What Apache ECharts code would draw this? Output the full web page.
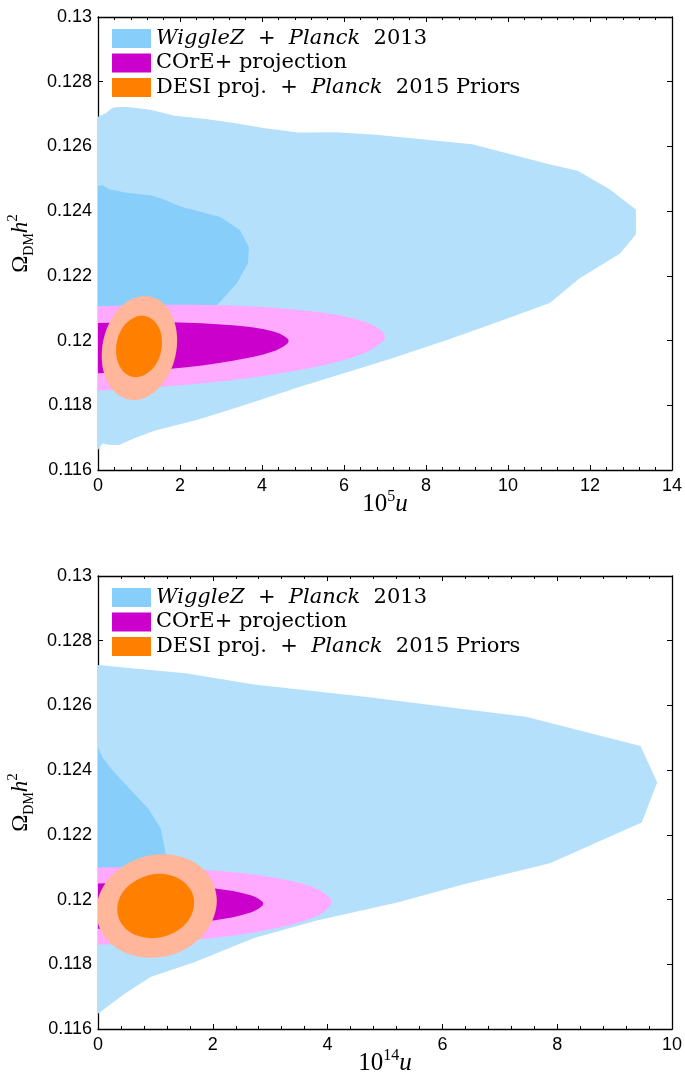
<!DOCTYPE html>
<html><head><meta charset="utf-8">
<script src="https://cdn.jsdelivr.net/npm/echarts@6/dist/echarts.min.js"></script>
<style>html,body{margin:0;padding:0;background:#fff}#c{width:685px;height:1084px}</style>
</head><body><div id="c"></div>
<script>
// ---------- tick labels ----------
const yTickLabels = ['0.116','0.118','0.12','0.122','0.124','0.126','0.128','0.13'];
const xTickLabelsTop = ['0','2','4','6','8','10','12','14'];
const xTickLabelsBottom = ['0','2','4','6','8','10'];
const legendNames = ['WiggleZ + Planck 2013','COrE+ projection','DESI proj. + Planck 2015 Priors'];

// ---------- top panel (10^5 u) ----------
const topWiggle95 = [[0,0.12692],[0.198,0.12703],[0.334,0.12718],[0.469,0.12722],[0.739,0.12722],[1.280,0.12713],[1.867,0.12695],[2.633,0.12685],[3.354,0.12672],[4.076,0.12656],[4.887,0.12643],[5.789,0.12644],[6.781,0.12636],[7.592,0.12626],[9.125,0.12607],[10.117,0.12574],[10.929,0.12547],[11.695,0.12525],[12.462,0.12469],[13.120,0.12405],[13.120,0.12328],[12.732,0.12269],[11.740,0.12192],[11.019,0.12116],[9.847,0.12062],[8.584,0.12005],[7.142,0.11944],[5.879,0.11894],[4.887,0.11856],[3.805,0.11810],[3.174,0.11785],[2.453,0.11756],[1.371,0.11721],[0.830,0.11695],[0.514,0.11677],[0.289,0.11677],[0.108,0.11682],[0,0.11662]];
const topWiggle68 = [[0,0.12478],[0.108,0.12480],[0.289,0.12467],[0.73,0.12456],[1.28,0.12449],[1.56,0.12438],[2.05,0.12413],[2.98,0.12382],[3.46,0.12342],[3.68,0.12289],[3.66,0.12240],[3.39,0.12178],[2.93,0.12113],[2.54,0.12072],[0,0.12051]];
const topCore95 = [[7.0,0.12013],[6.47,0.12060],[4.95,0.12094],[2.68,0.12110],[0,0.12106],[-2.68,0.12082],[-4.95,0.12042],[-6.47,0.11992],[-7.0,0.11939],[-6.47,0.11892],[-4.95,0.11858],[-2.68,0.11842],[0,0.11846],[2.68,0.11870],[4.95,0.11910],[6.47,0.11960]];
const topCore68 = [[4.65,0.11999],[4.30,0.12027],[3.29,0.12047],[1.78,0.12057],[0,0.12054],[-1.78,0.12039],[-3.29,0.12014],[-4.30,0.11984],[-4.65,0.11953],[-4.30,0.11925],[-3.29,0.11905],[-1.78,0.11895],[0,0.11899],[1.78,0.11913],[3.29,0.11938],[4.30,0.11968]];
const topDesi95 = [[1.93,0.12001],[1.86,0.12060],[1.66,0.12107],[1.36,0.12133],[1.01,0.12136],[0.66,0.12115],[0.36,0.12073],[0.16,0.12016],[0.09,0.11953],[0.16,0.11894],[0.36,0.11847],[0.66,0.11821],[1.01,0.11818],[1.36,0.11839],[1.66,0.11882],[1.86,0.11938]];
const topDesi68 = [[1.56,0.11994],[1.52,0.12030],[1.40,0.12057],[1.21,0.12074],[1.00,0.12076],[0.79,0.12064],[0.60,0.12040],[0.48,0.12007],[0.44,0.11970],[0.48,0.11935],[0.60,0.11907],[0.79,0.11890],[1.00,0.11888],[1.21,0.11900],[1.40,0.11924],[1.52,0.11957]];

// ---------- bottom panel (10^14 u) ----------
const botWiggle95 = [[0,0.12725],[1.559,0.12699],[2.719,0.12665],[4.652,0.12627],[6.392,0.12588],[7.455,0.12565],[9.452,0.12475],[9.742,0.12362],[9.472,0.12238],[7.874,0.12112],[6.392,0.12048],[5.232,0.11992],[3.814,0.11935],[2.719,0.11881],[1.688,0.11807],[0.915,0.11761],[0.464,0.11709],[0,0.11647]];
const botWiggle68 = [[0,0.12470],[0.077,0.12439],[0.238,0.12403],[0.528,0.12346],[0.883,0.12280],[1.095,0.12218],[1.186,0.12136],[1.17,0.12089],[0,0.12059]];
const botCore95 = [[4.07,0.11992],[3.76,0.12037],[2.88,0.12073],[1.56,0.12095],[0,0.12099],[-1.56,0.12086],[-2.88,0.12056],[-3.76,0.12015],[-4.07,0.11968],[-3.76,0.11923],[-2.88,0.11887],[-1.56,0.11865],[0,0.11861],[1.56,0.11874],[2.88,0.11904],[3.76,0.11945]];
const botCore68 = [[2.88,0.11987],[2.66,0.12013],[2.04,0.12034],[1.10,0.12047],[0,0.12050],[-1.10,0.12042],[-2.04,0.12024],[-2.66,0.12000],[-2.88,0.11973],[-2.66,0.11947],[-2.04,0.11926],[-1.10,0.11913],[0,0.11910],[1.10,0.11918],[2.04,0.11936],[2.66,0.11960]];
const botDesi95 = [[2.07,0.11996],[1.99,0.12056],[1.77,0.12104],[1.43,0.12133],[1.02,0.12139],[0.62,0.12121],[0.28,0.12081],[0.05,0.12026],[-0.03,0.11964],[0.05,0.11904],[0.28,0.11856],[0.62,0.11827],[1.02,0.11821],[1.43,0.11839],[1.77,0.11879],[1.99,0.11934]];
const botDesi68 = [[1.675,0.11990],[1.625,0.12027],[1.48,0.12057],[1.26,0.12075],[1.005,0.12079],[0.75,0.12067],[0.53,0.12043],[0.385,0.12009],[0.335,0.11970],[0.385,0.11933],[0.53,0.11903],[0.75,0.11885],[1.005,0.11881],[1.26,0.11893],[1.48,0.11917],[1.625,0.11951]];

const C = {
  wig95:'#B4E0FC', wig68:'#87CEFA',
  core95:'#FFAAFF', core68:'#CC00CC',
  desi95:'#FFB69B', desi68:'#FF8000'
};

function poly(name, pts, color, idx, smooth) {
  return {
    type:'custom', name: name, xAxisIndex: idx*2, yAxisIndex: idx*2, clip:true, silent:true,
    data: pts, itemStyle:{color: color},
    encode:{x:0, y:1},
    renderItem: function(params, api){
      if (params.dataIndex !== 0) return null;
      const points = pts.map(function(p){ return api.coord(p); });
      return {type:'polygon', shape:{points: points, smooth: smooth}, style:{fill: color, stroke: null}};
    }
  };
}

const axisFont = 'Liberation Sans';
const serif = 'Liberation Serif';
function xAxes(gridIndex, max, labels, sup) {
  const base = {
    type:'value', gridIndex: gridIndex, min:0, max:max, interval:2,
    axisLine:{show:true, onZero:false, lineStyle:{color:'#000', width:1.3}},
    axisTick:{show:true, inside:true, length:5, lineStyle:{color:'#000', width:1}},
    minorTick:{show:true, splitNumber:5, length:3, lineStyle:{color:'#000', width:1}},
    splitLine:{show:false}
  };
  return [
    Object.assign({}, base, {
      position:'bottom',
      axisLabel:{show:true, margin:7, color:'#000', fontFamily:axisFont, fontSize:18,
        formatter:function(v){ return labels[Math.round(v/2)]; }},
      name:'{n|10}{s|' + sup + '}{i|u}', nameLocation:'middle', nameGap:19, nameMoveOverlap:false,
      nameTextStyle:{color:'#000', fontFamily:serif, fontSize:25, verticalAlign:'top',
        rich:{
          n:{fontFamily:serif, fontSize:25, lineHeight:30, color:'#000'},
          s:{fontFamily:serif, fontSize:16, lineHeight:16, verticalAlign:'top', color:'#000'},
          i:{fontFamily:serif, fontSize:25, lineHeight:30, fontStyle:'italic', color:'#000'}
        }}
    }),
    Object.assign({}, base, {position:'top', axisLabel:{show:false}})
  ];
}
function yAxes(gridIndex) {
  const base = {
    type:'value', gridIndex: gridIndex, min:0.116, max:0.13, interval:0.002,
    axisLine:{show:true, onZero:false, lineStyle:{color:'#000', width:1.3}},
    axisTick:{show:true, inside:true, length:5, lineStyle:{color:'#000', width:1}},
    splitLine:{show:false}
  };
  return [
    Object.assign({}, base, {
      position:'left',
      axisLabel:{show:true, margin:6, color:'#000', fontFamily:axisFont, fontSize:18,
        formatter:function(v){ return yTickLabels[Math.round((v-0.116)/0.002)]; }},
      name:'{o|Ω}{sub|DM}{h|h}{sup|2}', nameLocation:'middle', nameGap:62, nameRotate:90, nameMoveOverlap:false,
      nameTextStyle:{color:'#000', fontFamily:serif, fontSize:23,
        rich:{
          o:{fontFamily:serif, fontSize:23, lineHeight:30, color:'#000'},
          sub:{fontFamily:serif, fontSize:14, lineHeight:16, verticalAlign:'bottom', color:'#000'},
          h:{fontFamily:serif, fontSize:23, lineHeight:30, fontStyle:'italic', color:'#000'},
          sup:{fontFamily:serif, fontSize:15, lineHeight:15, verticalAlign:'top', color:'#000'}
        }}
    }),
    Object.assign({}, base, {position:'right', axisLabel:{show:false}})
  ];
}

function legendFor(top) {
  return {
    left:112, top:top, orient:'vertical', itemWidth:39, itemHeight:19, itemGap:3.5, padding:0,
    selectedMode:false, icon:'rect',
    data:[
      {name:legendNames[0], itemStyle:{color:C.wig68}},
      {name:legendNames[1], itemStyle:{color:C.core68}},
      {name:legendNames[2], itemStyle:{color:C.desi68}}
    ],
    formatter:function(n){
      if (n === legendNames[0]) return '{i|WiggleZ}  +  {i|Planck}  2013';
      if (n === legendNames[2]) return 'DESI proj.  +  {i|Planck}  2015 Priors';
      return n;
    },
    textStyle:{color:'#000', fontFamily:'DejaVu Serif', fontSize:21, lineHeight:19,
      rich:{i:{fontFamily:'DejaVu Serif', fontStyle:'italic', fontSize:21, lineHeight:19, color:'#000'}}}
  };
}

const chart = echarts.init(document.getElementById('c'), null, {renderer:'canvas'});
chart.setOption({
  animation:false,
  backgroundColor:'#fff',
  grid:[
    {left:98, top:17, width:574, height:453, containLabel:false, outerBoundsMode:'none'},
    {left:98, top:576, width:574, height:453, containLabel:false, outerBoundsMode:'none'}
  ],
  xAxis: xAxes(0, 14, xTickLabelsTop, '5').concat(xAxes(1, 10, xTickLabelsBottom, '14')),
  yAxis: yAxes(0).concat(yAxes(1)),
  legend:[legendFor(28), legendFor(587)],
  series:[
    poly('wig95', topWiggle95, C.wig95, 0, 0),
    poly(legendNames[0], topWiggle68, C.wig68, 0, 0),
    poly('core95', topCore95, C.core95, 0, 0.34),
    poly(legendNames[1], topCore68, C.core68, 0, 0.34),
    poly('desi95', topDesi95, C.desi95, 0, 0.34),
    poly(legendNames[2], topDesi68, C.desi68, 0, 0.34),
    poly('wig95', botWiggle95, C.wig95, 1, 0),
    poly(legendNames[0], botWiggle68, C.wig68, 1, 0),
    poly('core95', botCore95, C.core95, 1, 0.34),
    poly(legendNames[1], botCore68, C.core68, 1, 0.34),
    poly('desi95', botDesi95, C.desi95, 1, 0.34),
    poly(legendNames[2], botDesi68, C.desi68, 1, 0.34)
  ]
});
</script>
</body></html>
